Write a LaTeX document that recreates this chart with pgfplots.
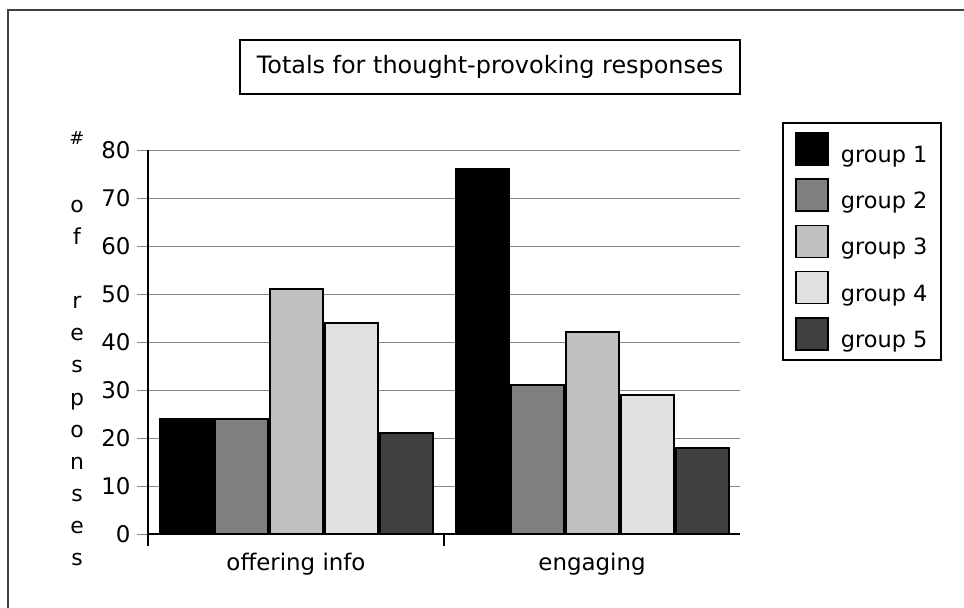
\documentclass[border=0pt]{standalone}
\usepackage{fontspec}
\setmainfont{DejaVu Sans}
\usepackage{pgfplots}
\pgfplotsset{compat=1.18}
\definecolor{gA}{HTML}{000000}
\definecolor{gB}{HTML}{808080}
\definecolor{gC}{HTML}{C0C0C0}
\definecolor{gD}{HTML}{E0E0E0}
\definecolor{gE}{HTML}{404040}
\definecolor{gridc}{HTML}{888888}
\begin{document}
\begin{tikzpicture}[x=1bp,y=1bp]
\useasboundingbox (0,0) rectangle (964,608);
\draw[color=gE, line width=1.3bp] (8,-20) -- (8,598) -- (990,598);
\node[draw=black, line width=2bp, minimum width=500bp, minimum height=54bp, inner sep=0pt,
  font=\fontsize{24}{28}\selectfont] at (490,541) {Totals for thought-provoking responses};
\node[anchor=north, align=center, font=\fontsize{22}{32.2}\selectfont] at (77,480)
  {\raisebox{4bp}{\fontsize{18}{18}\selectfont\#}\\ \strut\\ o\\ f\\ \strut\\ r\\ e\\ s\\ p\\ o\\ n\\ s\\ e\\ s};
\begin{axis}[
  at={(148bp,74bp)}, anchor=south west,
  scale only axis, width=592bp, height=384bp,
  xmin=-0.5, xmax=1.5, ymin=0, ymax=80,
  axis x line=bottom, axis y line=left,
  axis line style={-},
  x axis line style={black, line width=2bp},
  y axis line style={black, line width=2bp},
  ytick={0,10,...,80},
  ymajorgrids, grid style={gridc, line width=0.9bp},
  y tick style={gridc, line width=0.9bp},
  tick align=outside, major tick length=11bp,
  xtick={0,1}, xticklabels={offering info, engaging},
  x tick style={draw=none},
  extra x ticks={-0.5,0.5}, extra x tick labels={},
  extra x tick style={x tick style={black, line width=2bp, draw=black}, major tick length=12bp, grid=none},
  ticklabel style={font=\fontsize{23}{26}\selectfont},
  /pgf/number format/assume math mode=true,
  yticklabel style={xshift=-3bp},
  xticklabel style={yshift=-5bp},
  ybar=2bp, bar width=53bp,
  legend style={at={(1.071,1.073)}, anchor=north west, draw=black, line width=2bp,
    font=\fontsize{22.5}{26}\selectfont, row sep=12.5bp, inner xsep=12bp, inner ysep=9bp,
    cells={anchor=west}},
  legend image code/.code={\draw[#1, line width=1.6bp] (0bp,-10bp) rectangle (32bp,22bp); \path (42bp,0bp);},
  legend cell align=left,
]
\addplot[fill=gA, draw=black, line width=2bp] coordinates {(0,24) (1,76)};
\addplot[fill=gB, draw=black, line width=2bp] coordinates {(0,24) (1,31)};
\addplot[fill=gC, draw=black, line width=2bp] coordinates {(0,51) (1,42)};
\addplot[fill=gD, draw=black, line width=2bp] coordinates {(0,44) (1,29)};
\addplot[fill=gE, draw=black, line width=2bp] coordinates {(0,21) (1,18)};
\legend{group 1, group 2, group 3, group 4, group 5}
\end{axis}
\end{tikzpicture}
\end{document}
